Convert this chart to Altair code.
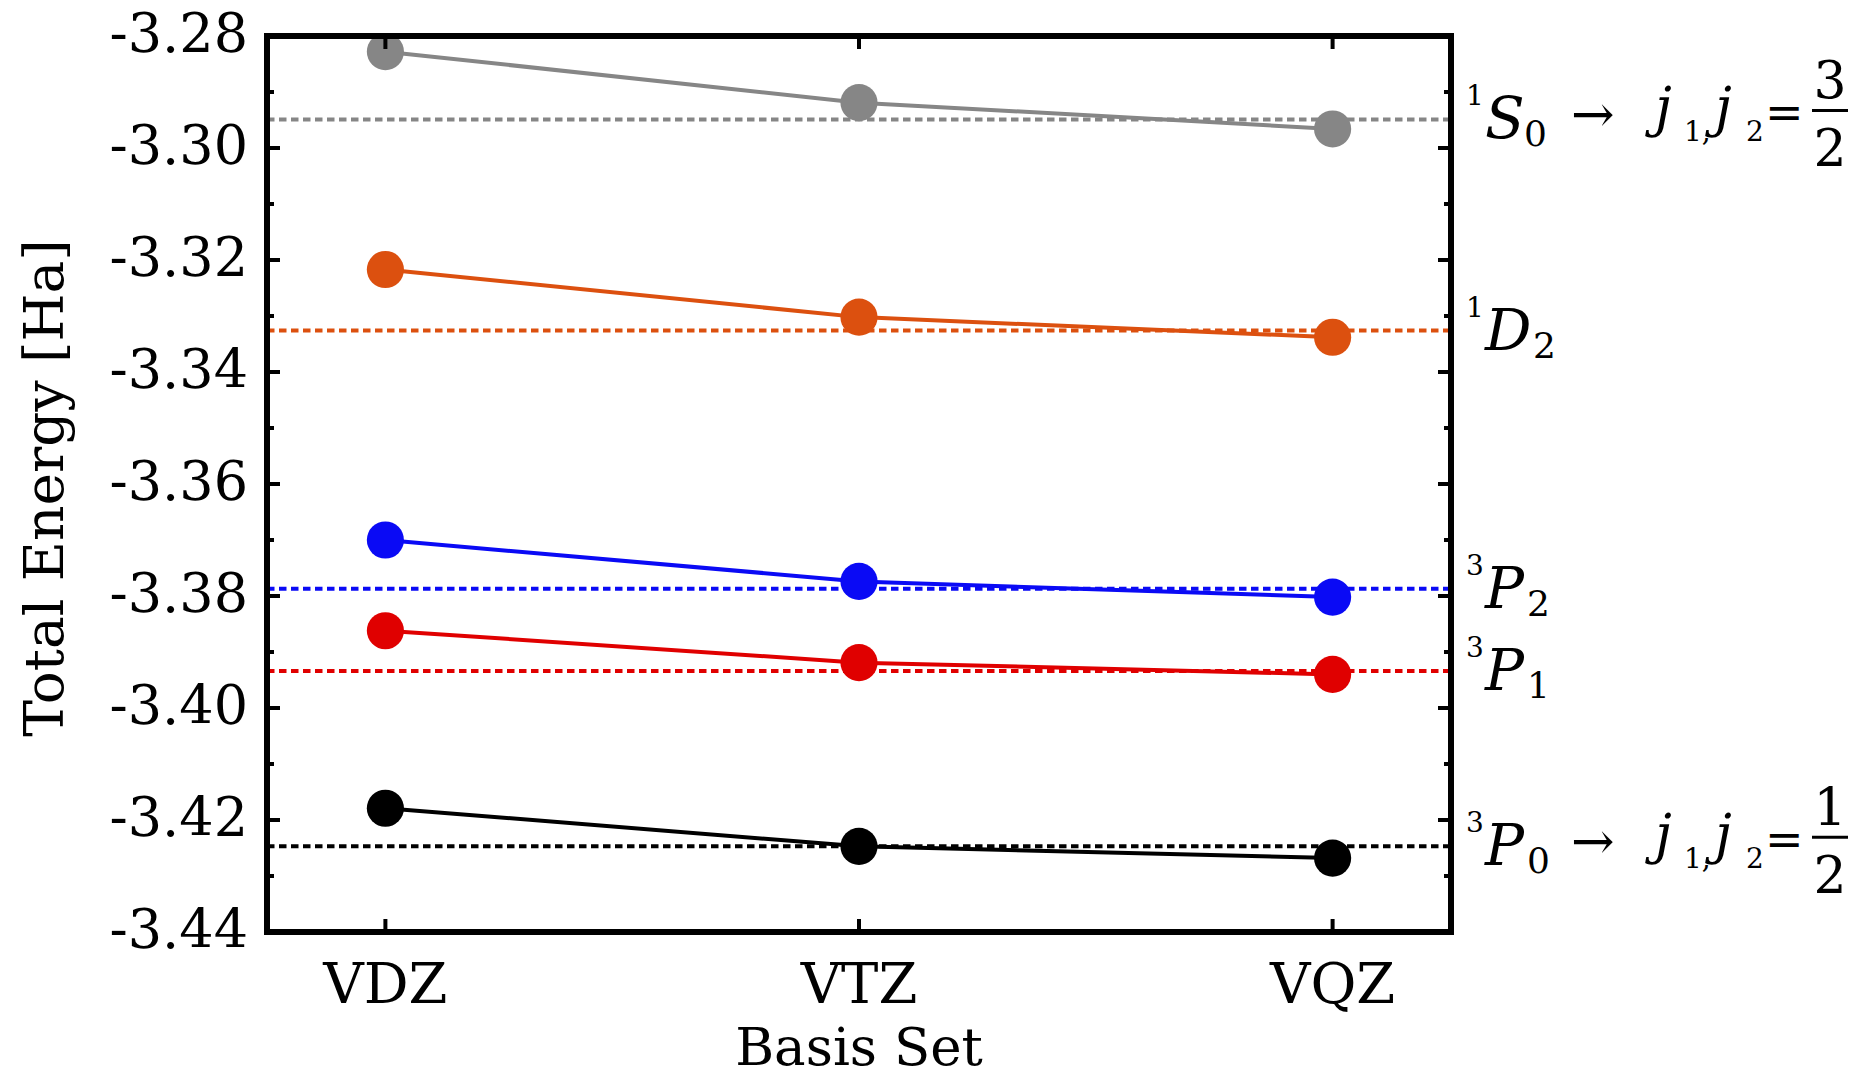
import altair as alt
import pandas as pd

# ---------------- data ----------------
BASIS = ["VDZ", "VTZ", "VQZ"]
STATES = ["1S0", "1D2", "3P2", "3P1", "3P0"]
E_1S0 = [-3.2828, -3.2919, -3.2966]
E_1D2 = [-3.3217, -3.3302, -3.3338]
E_3P2 = [-3.3700, -3.3774, -3.3802]
E_3P1 = [-3.3862, -3.3919, -3.3940]
E_3P0 = [-3.4179, -3.4247, -3.4268]
LEVELS = [-3.2949, -3.3326, -3.3787, -3.3934, -3.4247]   # dashed reference lines
SUP = ["1", "1", "3", "3", "3"]
LETTER = ["S", "D", "P", "P", "P"]
SUB = ["0", "2", "2", "1", "0"]
COLORS = ["#868686", "#DC500F", "#0A0AF5", "#E00000", "#000000"]
# j1,j2 annotations
J_STATES = ["1S0", "3P0"]
J_NUM = ["3", "1"]
J_DEN = ["2", "2"]
Y_TICKS = [-3.28, -3.30, -3.32, -3.34, -3.36, -3.38, -3.40, -3.42, -3.44]
Y_TICK_LABELS = ["-3.28", "-3.30", "-3.32", "-3.34", "-3.36", "-3.38", "-3.40", "-3.42", "-3.44"]
Y_MINOR = [-3.29, -3.31, -3.33, -3.35, -3.37, -3.39, -3.41, -3.43]
X_TITLE = "Basis Set"
Y_TITLE = "Total Energy [Ha]"

# ---------------- tables ----------------
series = {"1S0": E_1S0, "1D2": E_1D2, "3P2": E_3P2, "3P1": E_3P1, "3P0": E_3P0}
rows = []
for s in STATES:
    for b, e in zip(BASIS, series[s]):
        rows.append({"basis": b, "state": s, "energy": e})
df = pd.DataFrame(rows)
lev = pd.DataFrame({"state": STATES, "level": LEVELS, "sup": SUP, "letter": LETTER, "sub": SUB})
jdf = pd.DataFrame({"state": J_STATES, "num": J_NUM, "den": J_DEN})
jdf = jdf.merge(lev[["state", "level"]], on="state")
major = pd.DataFrame({"v": Y_TICKS, "lab": Y_TICK_LABELS})
minor = pd.DataFrame({"v": Y_MINOR})
xt = pd.DataFrame({"basis": BASIS})
titles = pd.DataFrame({"xt": [X_TITLE], "yt": [Y_TITLE]})

W, H = 1184, 896
FONT = "DejaVu Serif"

yscale = alt.Scale(domain=[-3.44, -3.28], nice=False, zero=False)
xscale = alt.Scale(domain=BASIS, type="point", padding=0.25)
cscale = alt.Scale(domain=STATES, range=COLORS)

X = alt.X("basis:N", scale=xscale, sort=BASIS, axis=None)
col = alt.Color("state:N", scale=cscale, legend=None)
Ylev = alt.Y("level:Q", scale=yscale, axis=None)
Yv = alt.Y("v:Q", scale=yscale, axis=None)

dashed = alt.Chart(lev).mark_rule(strokeWidth=4, strokeDash=[7.5, 4.5]).encode(
    x=alt.value(0), x2=alt.value(W), y=Ylev, color=col)

lines = alt.Chart(df).mark_line(strokeWidth=4).encode(
    x=X, y=alt.Y("energy:Q", scale=yscale, axis=None), color=col, detail="state:N")

points = alt.Chart(df).mark_circle(size=1380, opacity=1).encode(
    x=X, y=alt.Y("energy:Q", scale=yscale, axis=None), color=col)

tick_kw = dict(strokeWidth=4, color="black")
yl_major = alt.Chart(major).mark_rule(**tick_kw).encode(x=alt.value(0), x2=alt.value(13), y=Yv)
yr_major = alt.Chart(major).mark_rule(**tick_kw).encode(x=alt.value(W - 13), x2=alt.value(W), y=Yv)
yl_minor = alt.Chart(minor).mark_rule(**tick_kw).encode(x=alt.value(0), x2=alt.value(7), y=Yv)
yr_minor = alt.Chart(minor).mark_rule(**tick_kw).encode(x=alt.value(W - 7), x2=alt.value(W), y=Yv)
xb = alt.Chart(xt).mark_rule(**tick_kw).encode(x=X, y=alt.value(H - 13), y2=alt.value(H))
xtop = alt.Chart(xt).mark_rule(**tick_kw).encode(x=X, y=alt.value(0), y2=alt.value(13))

frame = alt.Chart(pd.DataFrame({"a": [0]})).mark_rect(
    filled=False, stroke="black", strokeWidth=6).encode(
    x=alt.value(0), x2=alt.value(W), y=alt.value(0), y2=alt.value(H))

# axis labels and titles (drawn through the scales)
ylabels = alt.Chart(major).mark_text(font=FONT, fontSize=54, align="right", baseline="middle",
                                     color="black", dx=-19).encode(
    x=alt.value(0), y=Yv, text="lab:N")
xlabels = alt.Chart(xt).mark_text(font=FONT, fontSize=56, align="center", baseline="alphabetic",
                                  color="black").encode(
    x=X, y=alt.value(H + 71), text="basis:N")
xtitle = alt.Chart(titles).mark_text(font=FONT, fontSize=53, align="center", baseline="alphabetic",
                                     color="black").encode(
    x=alt.value(W / 2), y=alt.value(H + 133), text="xt:N")
ytitle = alt.Chart(titles).mark_text(font=FONT, fontSize=55, align="center", baseline="alphabetic",
                                     angle=270, color="black").encode(
    x=alt.value(-204), y=alt.value(H / 2 + 4), text="yt:N")


def txt(data, field, xpx, dy, size, italic=False, align="left", baseline="alphabetic"):
    kw = dict(font=FONT, fontSize=size, dy=dy, align=align, baseline=baseline, color="black")
    if italic:
        kw["fontStyle"] = "italic"
    return alt.Chart(data).mark_text(**kw).encode(
        x=alt.value(xpx), y=Ylev, text=alt.Text(field))


SUB_X = {"S": 73, "D": 82, "P": 76}
term_layers = [
    txt(lev, "sup:N", W + 15, -14, 28),
    txt(lev, "letter:N", W + 34, 19, 58, italic=True),
]
for letter, off in SUB_X.items():
    term_layers.append(
        alt.Chart(lev).transform_filter(alt.datum.letter == letter).mark_text(
            font=FONT, fontSize=36, dy=27, align="left", baseline="alphabetic", color="black"
        ).encode(x=alt.value(W + off), y=Ylev, text="sub:N"))


def jtext(t, xpx, dy, size, italic=False, align="left"):
    kw = dict(text=t, font=FONT, fontSize=size, dy=dy, align=align, baseline="alphabetic",
              color="black")
    if italic:
        kw["fontStyle"] = "italic"
    return alt.Chart(jdf).mark_text(**kw).encode(x=alt.value(xpx), y=Ylev)


j_layers = [
    jtext("\u2192", W + 120, 13, 52),
    jtext("j", W + 204, 7, 54, italic=True),
    jtext("1,", W + 233, 22, 28),
    jtext("j", W + 264, 7, 54, italic=True),
    jtext("2", W + 295, 22, 28),
    jtext("=", W + 314, 9, 46),
    alt.Chart(jdf).mark_text(font=FONT, fontSize=52, dy=-21, align="center", baseline="alphabetic",
                             color="black").encode(x=alt.value(W + 379), y=Ylev, text="num:N"),
    alt.Chart(jdf).mark_text(font=FONT, fontSize=52, dy=47, align="center", baseline="alphabetic",
                             color="black").encode(x=alt.value(W + 379), y=Ylev, text="den:N"),
    alt.Chart(jdf).mark_rule(strokeWidth=3, color="black", yOffset=-9).encode(
        x=alt.value(W + 361), x2=alt.value(W + 397), y=Ylev),
]

chart = alt.layer(
    dashed, lines, points, yl_major, yr_major, yl_minor, yr_minor, xb, xtop, frame,
    ylabels, xlabels, xtitle, ytitle, *term_layers, *j_layers
).properties(
    width=W, height=H,
    padding={"left": 267, "top": 36, "right": 1869 - 267 - W, "bottom": 1077 - 36 - H},
    autosize=alt.AutoSizeParams(type="none"),
    background="white",
).configure_view(strokeWidth=0)

chart.save("out.html", embed_options={"renderer": "svg", "actions": False})
